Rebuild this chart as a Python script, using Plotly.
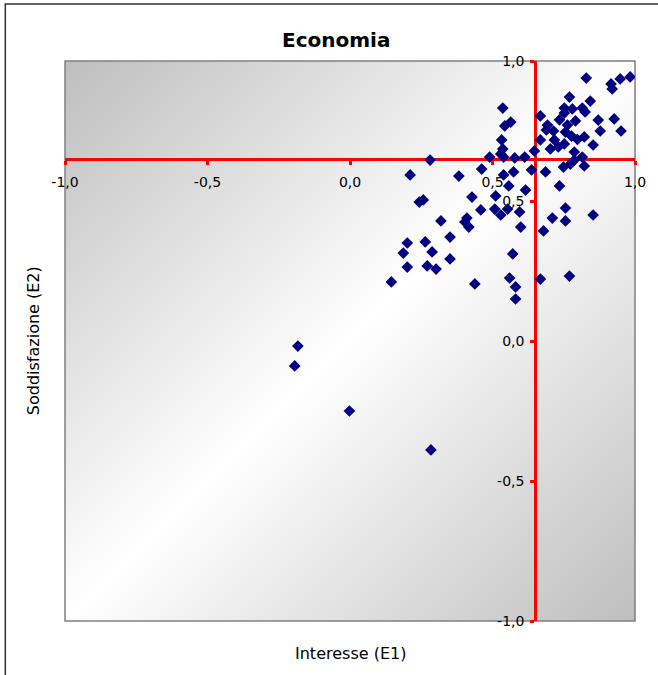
import base64
import plotly.graph_objects as go

# Data (Interesse E1 vs Soddisfazione E2)
interesse = [
    -0.183, -0.194, -0.002, 0.284, 0.281, 0.211, 0.382, 0.462, 0.490, 0.529,
    0.539, 0.578, 0.613, 0.637, 0.574, 0.539, 0.557, 0.616, 0.511, 0.428,
    0.243, 0.257, 0.459, 0.508, 0.529, 0.553, 0.595, 0.319, 0.410, 0.403,
    0.417, 0.599, 0.351, 0.201, 0.264, 0.187, 0.288, 0.351, 0.571, 0.201,
    0.271, 0.302, 0.145, 0.438, 0.560, 0.581, 0.581, 0.686, 0.735, 0.756,
    0.710, 0.756, 0.853, 0.679, 0.668, 0.770, 0.829, 0.916, 0.920, 0.948,
    0.983, 0.536, 0.564, 0.543, 0.668, 0.770, 0.752, 0.752, 0.780, 0.815,
    0.843, 0.825, 0.693, 0.689, 0.763, 0.791, 0.756, 0.777, 0.871, 0.878,
    0.927, 0.951, 0.668, 0.717, 0.822, 0.532, 0.853, 0.703, 0.731, 0.752,
    0.787, 0.536, 0.647, 0.787, 0.815, 0.749, 0.773, 0.822, 0.735, 0.714,
    0.798,
]
soddisfazione = [
    -0.018, -0.089, -0.250, -0.389, 0.646, 0.593, 0.589, 0.614, 0.657, 0.668,
    0.657, 0.654, 0.657, 0.611, 0.604, 0.593, 0.554, 0.539, 0.518, 0.514,
    0.496, 0.504, 0.468, 0.471, 0.450, 0.471, 0.461, 0.429, 0.439, 0.425,
    0.407, 0.407, 0.371, 0.350, 0.354, 0.314, 0.318, 0.293, 0.311, 0.264,
    0.268, 0.257, 0.211, 0.204, 0.225, 0.193, 0.150, 0.604, 0.554, 0.475,
    0.439, 0.429, 0.450, 0.393, 0.221, 0.232, 0.939, 0.918, 0.900, 0.936,
    0.943, 0.832, 0.782, 0.768, 0.804, 0.871, 0.832, 0.814, 0.829, 0.832,
    0.857, 0.818, 0.771, 0.754, 0.771, 0.786, 0.746, 0.732, 0.789, 0.750,
    0.793, 0.750, 0.718, 0.718, 0.729, 0.718, 0.700, 0.686, 0.693, 0.704,
    0.675, 0.686, 0.679, 0.646, 0.657, 0.621, 0.632, 0.625, 0.790, 0.750,
    0.720,
]

x_range = [-1.0, 1.0]
y_range = [-1.0, 1.0]
x_cross = 0.65   # vertical axis crosses the x axis here
y_cross = 0.65   # horizontal axis crosses the y axis here
tick_vals = [-1.0, -0.5, 0.0, 0.5, 1.0]
tick_text = ["-1,0", "-0,5", "0,0", "0,5", "1,0"]

FONT = "DejaVu Sans"

svg = (
    "<svg xmlns='http://www.w3.org/2000/svg' width='200' height='200' preserveAspectRatio='none'>"
    "<defs><linearGradient id='g' x1='0' y1='0' x2='1' y2='1'>"
    "<stop offset='0' stop-color='#bebebe'/>"
    "<stop offset='0.5' stop-color='#ffffff'/>"
    "<stop offset='1' stop-color='#bebebe'/>"
    "</linearGradient></defs>"
    "<rect width='200' height='200' fill='url(#g)'/></svg>"
)
bg_src = "data:image/svg+xml;base64," + base64.b64encode(svg.encode()).decode()

fig = go.Figure()
fig.add_trace(go.Scatter(
    x=interesse, y=soddisfazione, mode="markers",
    marker=dict(symbol="diamond", size=9, color="#000080", line=dict(width=0)),
    showlegend=False, hoverinfo="x+y",
))

xpos = (y_cross - y_range[0]) / (y_range[1] - y_range[0])
ypos = (x_cross - x_range[0]) / (x_range[1] - x_range[0])

axis_common = dict(
    tickvals=tick_vals, ticktext=tick_text, showgrid=False, zeroline=False,
    showline=True, linecolor="#ff0000", linewidth=3,
    ticks="outside", tickcolor="#ff0000", tickwidth=3, ticklen=4,
    tickfont=dict(family=FONT, size=14, color="#000000"),
    layer="below traces", fixedrange=True,
)

fig.update_layout(
    width=658, height=675,
    margin=dict(l=65, r=20, t=61, b=54),
    paper_bgcolor="#ffffff", plot_bgcolor="rgba(0,0,0,0)",
    xaxis=dict(range=x_range, anchor="free", position=xpos,
               ticklabelstandoff=5, **axis_common),
    yaxis=dict(range=y_range, anchor="free", position=ypos,
               ticklabelstandoff=3, **axis_common),
    images=[dict(source=bg_src, xref="paper", yref="paper", x=0, y=1,
                 sizex=1, sizey=1, sizing="stretch", xanchor="left",
                 yanchor="top", layer="below")],
    shapes=[
        dict(type="rect", xref="paper", yref="paper", x0=0, x1=1, y0=0, y1=1,
             line=dict(color="#808080", width=1.5), layer="below"),
        dict(type="rect", xref="paper", yref="paper",
             x0=(5 - 65) / 573, x1=1.2, y0=-0.3, y1=(621 - 4) / 560,
             line=dict(color="#303030", width=1.5), layer="below"),
    ],
    annotations=[
        dict(text="<b>Economia</b>", xref="paper", yref="paper",
             x=(337 - 65) / 573, y=(621 - 40) / 560, xanchor="center",
             yanchor="middle", showarrow=False,
             font=dict(family=FONT, size=20, color="#000000")),
        dict(text="Interesse (E1)", xref="paper", yref="paper",
             x=0.5, y=(621 - 653) / 560, xanchor="center", yanchor="middle",
             showarrow=False, font=dict(family=FONT, size=16, color="#000000")),
        dict(text="Soddisfazione (E2)", xref="paper", yref="paper",
             x=(33 - 65) / 573, y=(621 - 341) / 560, xanchor="center",
             yanchor="middle", textangle=-90, showarrow=False,
             font=dict(family=FONT, size=16, color="#000000")),
    ],
)

fig.write_html("out.html")
